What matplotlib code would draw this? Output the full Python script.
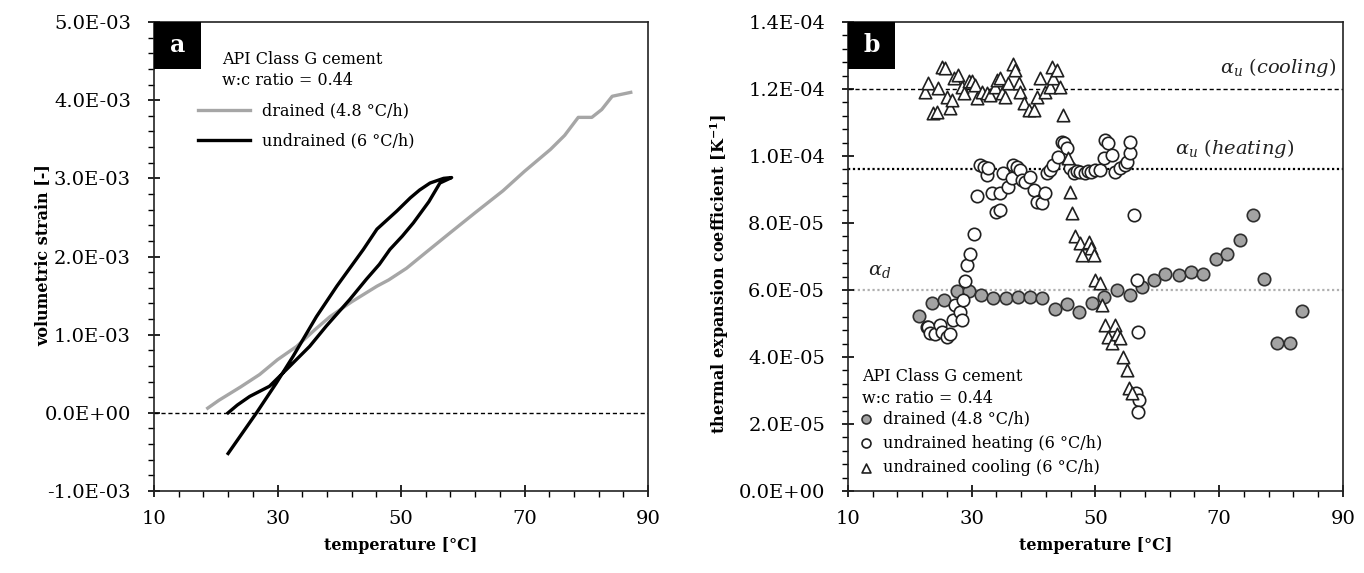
import matplotlib
matplotlib.use('Agg')
import matplotlib.pyplot as plt
from matplotlib.ticker import MultipleLocator, FormatStrFormatter
from matplotlib.patches import Rectangle

plt.rcParams['font.family'] = ['DejaVu Serif']
plt.rcParams['mathtext.fontset'] = 'dejavuserif'

# --- (a) volumetric strain vs temperature, strain in units of 1e-3 ---
drained_T = [18.7, 20.5, 24.0, 27.1, 30.0, 33.1, 36.0, 38.5, 42.0, 46.1, 48.0, 50.9,
             54.0, 57.9, 62.0, 66.5, 70.0, 74.2, 76.5, 78.7, 80.9, 82.5, 84.2, 87.2]
drained_eps = [0.06, 0.16, 0.33, 0.49, 0.68, 0.85, 1.06, 1.23, 1.42, 1.62, 1.70, 1.85,
               2.05, 2.30, 2.56, 2.84, 3.09, 3.37, 3.55, 3.78, 3.78, 3.88, 4.05, 4.10]

# heating branch then cooling branch
undrained_T = [22.0, 23.5, 25.5, 28.7, 31.4, 35.2, 37.9, 41.7, 44.4, 46.5, 48.2, 50.2,
               52.0, 54.5, 56.3, 58.2,
               56.9, 54.7, 53.0, 51.5, 49.3, 46.1, 43.9, 39.6, 36.3, 32.5, 29.8, 26.6, 22.0]
undrained_eps = [0.00, 0.10, 0.21, 0.34, 0.55, 0.85, 1.11, 1.45, 1.71, 1.90, 2.09, 2.26,
                 2.43, 2.70, 2.94, 3.01,
                 3.00, 2.94, 2.85, 2.75, 2.58, 2.35, 2.09, 1.62, 1.23, 0.72, 0.38, 0.00, -0.52]

# --- (b) thermal expansion coefficient, in units of 1e-5 1/K ---
alpha_d_T = [21.5, 23.5, 25.5, 27.6, 29.6, 31.5, 33.5, 35.5, 37.5, 39.4, 41.3, 43.5,
             45.4, 47.4, 49.4, 51.4, 53.4, 55.6, 57.5, 59.4, 61.3, 63.5, 65.5, 67.4,
             69.4, 71.3, 73.4, 75.5, 77.2, 79.4, 81.4, 83.3]
alpha_d = [5.23, 5.60, 5.70, 5.98, 5.98, 5.85, 5.75, 5.75, 5.80, 5.80, 5.75, 5.43,
           5.58, 5.35, 5.60, 5.80, 6.00, 5.84, 6.10, 6.30, 6.48, 6.44, 6.53, 6.48,
           6.92, 7.07, 7.49, 8.24, 6.32, 4.41, 4.43, 5.36]

heat_T = [22.7, 23.0, 23.3, 24.1, 24.9, 25.2, 26.0, 26.5, 27.0, 27.3, 28.1, 28.4,
          28.6, 28.9, 29.2, 29.7, 30.3, 30.8, 31.4, 31.9, 32.4, 32.6, 33.2, 34.0,
          34.5, 34.6, 35.1, 35.9, 36.5, 36.7, 37.3, 37.8, 38.1, 38.6, 39.4, 40.0,
          40.5, 41.3, 41.9, 42.2, 42.7, 43.2, 44.0, 44.6, 44.9, 45.4, 45.9, 46.5,
          47.0, 47.5, 48.3, 48.8, 49.2, 50.0, 50.8, 51.3, 51.6, 52.1, 52.7, 53.2,
          54.0, 54.8, 55.1, 55.6, 55.6, 56.2, 56.7, 56.8, 56.6, 57.0, 56.8]
heat_alpha = [4.90, 4.90, 4.72, 4.70, 4.96, 4.76, 4.60, 4.70, 5.10, 5.55, 5.35, 5.10,
              5.70, 6.28, 6.75, 7.07, 7.66, 8.80, 9.73, 9.68, 9.43, 9.65, 8.89, 8.34,
              8.39, 8.89, 9.48, 9.08, 9.33, 9.73, 9.68, 9.58, 9.28, 9.23, 9.38, 8.98,
              8.64, 8.59, 8.89, 9.48, 9.58, 9.73, 9.98, 10.43, 10.38, 10.23, 9.63, 9.48,
              9.55, 9.53, 9.48, 9.55, 9.53, 9.58, 9.58, 9.93, 10.48, 10.38, 10.03, 9.53,
              9.63, 9.73, 9.83, 10.08, 10.43, 8.24, 6.30, 4.74, 2.92, 2.72, 2.37]

cool_T = [22.5, 23.0, 23.8, 24.4, 24.6, 25.2, 25.7, 26.0, 26.5, 26.8, 27.1, 27.7,
          28.4, 28.7, 29.5, 30.0, 30.5, 30.8, 31.6, 32.4, 33.0, 33.8, 34.1, 34.6,
          34.9, 35.4, 35.9, 36.7, 37.0, 37.6, 37.8, 38.4, 39.2, 40.0, 40.5, 41.1,
          41.9, 42.7, 43.0, 43.2, 43.8, 44.3, 44.8,
          45.6, 45.9, 46.2, 46.7, 47.5, 47.8, 48.9, 49.2, 49.7, 50.0, 50.8, 51.1,
          51.6, 52.1, 52.7, 53.2, 53.5, 54.0, 54.5, 55.1, 55.4, 55.9]
cool_alpha = [11.92, 12.17, 11.27, 11.32, 12.02, 12.66, 12.62, 11.77, 11.42, 11.67, 12.32, 12.42,
              12.07, 11.87, 12.24, 12.24, 12.12, 11.72, 11.92, 11.87, 11.82, 12.07, 12.27, 12.32,
              11.87, 11.77, 12.17, 12.76, 12.57, 12.17, 11.92, 11.57, 11.37, 11.37, 11.77, 12.32,
              11.92, 12.07, 12.66, 12.32, 12.57, 12.07, 11.22,
              9.93, 8.93, 8.29, 7.61, 7.39, 7.04, 7.44, 7.25, 7.04, 6.30, 6.20, 5.55,
              4.95, 4.60, 4.41, 4.95, 4.70, 4.56, 4.00, 3.61, 3.07, 2.92]

alpha_u_cool = 12.0
alpha_u_heat = 9.6
alpha_d_ref = 6.0

fig = plt.figure(figsize=(13.64, 5.73), dpi=100)
ax1 = fig.add_axes([0.1129, 0.1431, 0.3622, 0.8185])
ax2 = fig.add_axes([0.6217, 0.1431, 0.3629, 0.8185])


def style_axis(ax):
    ax.xaxis.set_major_locator(MultipleLocator(20, offset=10))
    ax.xaxis.set_minor_locator(MultipleLocator(4, offset=2))
    ax.tick_params(which='major', direction='inout', length=9, width=1.2,
                   labelsize=14, top=False, right=False, pad=12)
    ax.tick_params(axis='x', which='major', pad=9)
    ax.tick_params(which='minor', direction='out', length=4, width=1.0,
                   top=False, right=False)
    for s in ax.spines.values():
        s.set_linewidth(1.2)
        s.set_color('#222222')
    ax.set_xlim(10, 90)
    ax.set_xlabel('temperature [°C]', fontsize=11.5, fontweight='bold')
    ax.xaxis.set_label_coords(0.5, -0.098)


def panel_tag(ax, letter):
    ax.add_patch(Rectangle((0, 0.9), 0.095, 0.1, transform=ax.transAxes,
                           facecolor='black', edgecolor='none', zorder=5, clip_on=False))
    ax.text(0.0475, 0.95, letter, transform=ax.transAxes, color='white',
            fontsize=17, fontweight='bold', ha='center', va='center', zorder=6)


# panel a
ax1.plot(drained_T, [e * 1e-3 for e in drained_eps], color='#a6a6a6', lw=2.4,
         label='drained (4.8 °C/h)')
ax1.plot(undrained_T, [e * 1e-3 for e in undrained_eps], color='black', lw=2.4,
         label='undrained (6 °C/h)')
ax1.axhline(0, color='black', lw=1, ls=(0, (3, 2)), zorder=0)
ax1.set_ylim(-1e-3, 5e-3)
ax1.yaxis.set_major_locator(MultipleLocator(1e-3))
ax1.yaxis.set_minor_locator(MultipleLocator(2e-4))
ax1.yaxis.set_major_formatter(FormatStrFormatter('%.1E'))
style_axis(ax1)
ax1.set_ylabel('volumetric strain [-]', fontsize=11.5, fontweight='bold')
ax1.yaxis.set_label_coords(-0.2085, 0.503)
panel_tag(ax1, 'a')
ax1.text(0.138, 0.921, 'API Class G cement', transform=ax1.transAxes,
         fontsize=11.5, va='center')
ax1.text(0.138, 0.876, 'w:c ratio = 0.44', transform=ax1.transAxes,
         fontsize=11.5, va='center')
ax1.legend(loc='upper left', bbox_to_anchor=(0.09, 0.828), frameon=False,
           fontsize=11.5, handlelength=3.2, handletextpad=0.8, labelspacing=0.8,
           borderpad=0, borderaxespad=0)

# panel b
ax2.axhline(alpha_u_cool * 1e-5, color='black', lw=1, ls=(0, (3, 2)), zorder=0)
ax2.axhline(alpha_u_heat * 1e-5, color='black', lw=1.6, ls=(0, (1, 1.2)), zorder=0)
ax2.axhline(alpha_d_ref * 1e-5, color='#b0b0b0', lw=1.6, ls=(0, (1, 1.2)), zorder=0)
ax2.scatter(alpha_d_T, [a * 1e-5 for a in alpha_d], s=80, marker='o',
            facecolor='#a3a3a3', edgecolor='#303030', linewidth=1.2,
            label='drained (4.8 °C/h)', zorder=3)
ax2.scatter(heat_T, [a * 1e-5 for a in heat_alpha], s=80, marker='o',
            facecolor='white', edgecolor='#202020', linewidth=1.2,
            label='undrained heating (6 °C/h)', zorder=3)
ax2.scatter(cool_T, [a * 1e-5 for a in cool_alpha], s=80, marker='^',
            facecolor='white', edgecolor='#202020', linewidth=1.2,
            label='undrained cooling (6 °C/h)', zorder=3)
ax2.set_ylim(0, 1.4e-4)
ax2.yaxis.set_major_locator(MultipleLocator(2e-5))
ax2.yaxis.set_minor_locator(MultipleLocator(4e-6))
ax2.yaxis.set_major_formatter(FormatStrFormatter('%.1E'))
style_axis(ax2)
ax2.set_ylabel('thermal expansion coefficient [K$^{\\mathbf{-1}}$]', fontsize=11.5,
               fontweight='bold')
ax2.yaxis.set_label_coords(-0.236, 0.462)
panel_tag(ax2, 'b')
ax2.text(0.752, 0.902, r'$\alpha_u\ (cooling)$', transform=ax2.transAxes,
         fontsize=14, va='center', color='#222222')
ax2.text(0.661, 0.731, r'$\alpha_u\ (heating)$', transform=ax2.transAxes,
         fontsize=14, va='center', color='#222222')
ax2.text(0.040, 0.469, r'$\alpha_d$', transform=ax2.transAxes,
         fontsize=14, va='center', color='#222222')
ax2.text(0.028, 0.245, 'API Class G cement', transform=ax2.transAxes,
         fontsize=11.5, va='center')
ax2.text(0.028, 0.198, 'w:c ratio = 0.44', transform=ax2.transAxes,
         fontsize=11.5, va='center')
ax2.legend(loc='upper left', bbox_to_anchor=(0.02, 0.172), frameon=False,
           fontsize=11.5, handlelength=1.0, handletextpad=0.6, labelspacing=0.45,
           borderpad=0, borderaxespad=0, markerscale=0.72)

fig.savefig('out.png', dpi=100)
